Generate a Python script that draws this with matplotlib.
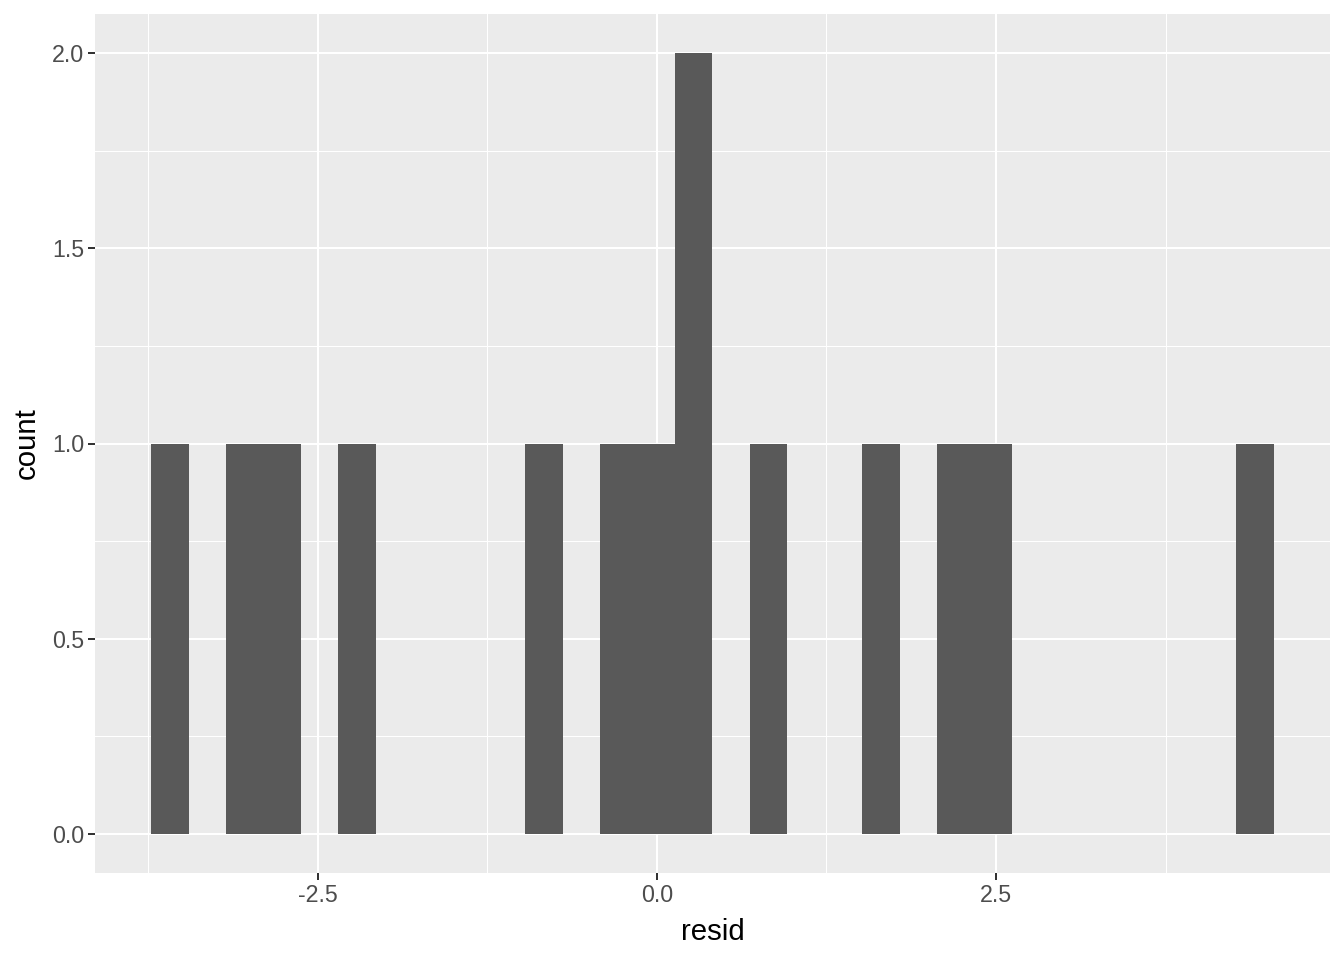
import numpy as np
import matplotlib
matplotlib.use("Agg")
import matplotlib.pyplot as plt
from matplotlib.ticker import MultipleLocator, FixedLocator

# histogram of residuals, 30 bins
bin_lo, bin_hi = -3.728, 4.548
counts = [1, 0, 1, 1, 0, 1, 0, 0, 0, 0,
          1, 0, 1, 1, 2, 0, 1, 0, 0, 1,
          0, 1, 1, 0, 0, 0, 0, 0, 0, 1]
x_ticks = [-2.5, 0.0, 2.5]
x_minor = [-3.75, -1.25, 1.25, 3.75]
y_ticks = [0.0, 0.5, 1.0, 1.5, 2.0]

edges = np.linspace(bin_lo, bin_hi, len(counts) + 1)
width = edges[1] - edges[0]

plt.rcParams['font.family'] = ['Liberation Sans', 'DejaVu Sans']

fig = plt.figure(figsize=(14, 10), dpi=96)
ax = fig.add_axes([95/1344, 1 - 873/960, (1330-95)/1344, (873-14)/960])
ax.set_facecolor('#EBEBEB')
for s in ax.spines.values():
    s.set_visible(False)

ax.bar(edges[:-1], counts, width=width, align='edge', color='#595959', zorder=3)

span = bin_hi - bin_lo
ax.set_xlim(bin_lo - 0.05*span, bin_hi + 0.05*span)
ax.set_ylim(-0.1, 2.1)

ax.xaxis.set_major_locator(FixedLocator(x_ticks))
ax.xaxis.set_minor_locator(FixedLocator(x_minor))
ax.yaxis.set_major_locator(FixedLocator(y_ticks))
ax.yaxis.set_minor_locator(MultipleLocator(0.25))
ax.set_xticklabels(['%.1f' % t for t in x_ticks])
ax.set_yticklabels(['%.1f' % t for t in y_ticks])

ax.grid(which='major', color='white', linewidth=1.5, zorder=1)
ax.grid(which='minor', color='white', linewidth=0.75, zorder=1)
ax.set_axisbelow(True)

ax.tick_params(which='major', length=5.3, width=1.5, color='#333333',
               labelsize=17.4, labelcolor='#4D4D4D', pad=3)
ax.tick_params(which='minor', length=0)

ax.set_xlabel('resid', fontsize=22, color='black', labelpad=8)
ax.set_ylabel('count', fontsize=22, color='black', labelpad=8)

fig.savefig('out.png', dpi=96)
